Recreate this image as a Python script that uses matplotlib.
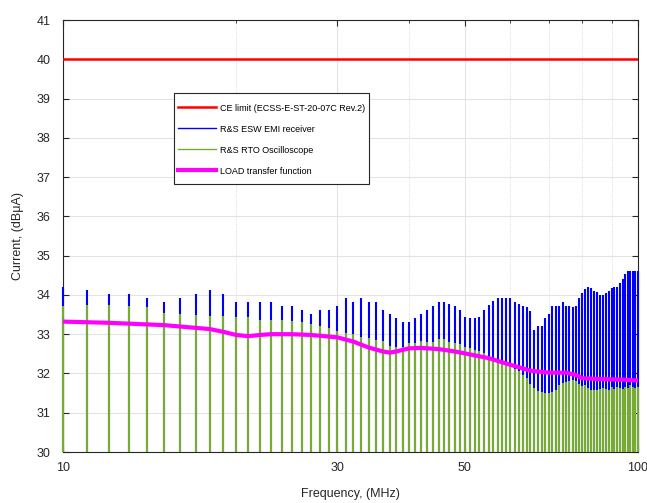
import matplotlib
matplotlib.use("Agg")
import matplotlib.pyplot as plt
from matplotlib.ticker import FixedLocator, NullFormatter, FixedFormatter
from matplotlib.lines import Line2D
from matplotlib.legend_handler import HandlerLine2D

plt.rcParams['font.family'] = ['Liberation Sans', 'DejaVu Sans']

# Harmonic frequencies (MHz)
freqs = list(range(10, 101))

# R&S ESW EMI receiver peaks (dBuA), 10..100 MHz
esw = [34.21, 34.12, 34.03, 34.02, 33.92, 33.81, 33.91, 34.02, 34.12, 34.02,
       33.82, 33.81, 33.81, 33.81, 33.71, 33.71, 33.62, 33.52, 33.62, 33.62,
       33.72, 33.91, 33.81, 33.91, 33.81, 33.81, 33.62, 33.51, 33.41, 33.31,
       33.31, 33.41, 33.51, 33.62, 33.71, 33.81, 33.81, 33.76, 33.71, 33.62,
       33.45, 33.41, 33.41, 33.45, 33.62, 33.75, 33.85, 33.91, 33.91, 33.91,
       33.91, 33.83, 33.78, 33.72, 33.68, 33.60, 33.11, 33.21, 33.21, 33.41,
       33.51, 33.72, 33.72, 33.72, 33.82, 33.72, 33.72, 33.68, 33.72, 33.91,
       34.05, 34.15, 34.21, 34.18, 34.11, 34.08, 34.01, 34.01, 34.05, 34.11,
       34.18, 34.21, 34.21, 34.31, 34.40, 34.52, 34.61, 34.61, 34.61, 34.61,
       34.61]

# R&S RTO Oscilloscope peaks (dBuA), 10..100 MHz
rto = [33.72, 33.74, 33.74, 33.72, 33.68, 33.54, 33.52, 33.49, 33.47, 33.46,
       33.44, 33.44, 33.37, 33.36, 33.36, 33.34, 33.31, 33.27, 33.21, 33.15,
       33.08, 33.04, 33.00, 32.94, 32.91, 32.85, 32.83, 32.70, 32.67, 32.67,
       32.77, 32.77, 32.83, 32.80, 32.80, 32.87, 32.87, 32.81, 32.77, 32.74,
       32.68, 32.64, 32.60, 32.56, 32.52, 32.43, 32.35, 32.26, 32.24, 32.22,
       32.18, 32.12, 32.06, 31.96, 31.88, 31.72, 31.63, 31.56, 31.54, 31.50,
       31.50, 31.52, 31.58, 31.71, 31.75, 31.77, 31.80, 31.84, 31.80, 31.72,
       31.68, 31.71, 31.63, 31.58, 31.58, 31.58, 31.60, 31.63, 31.60, 31.58,
       31.65, 31.60, 31.65, 31.63, 31.60, 31.65, 31.62, 31.70, 31.65, 31.62,
       31.66]

# LOAD transfer function
load_f = [10, 12, 15, 18, 19, 20, 21, 22, 23, 25, 27, 30, 32, 34, 36, 37, 38,
          40, 42, 45, 48, 50, 55, 60, 63, 65, 70, 75, 78, 80, 85, 90, 95, 100]
load_v = [33.32, 33.29, 33.23, 33.13, 33.06, 32.98, 32.95, 32.98, 33.00, 33.00,
          32.98, 32.92, 32.81, 32.66, 32.56, 32.53, 32.56, 32.64, 32.65, 32.62,
          32.56, 32.51, 32.39, 32.22, 32.13, 32.07, 32.02, 32.02, 31.96, 31.88,
          31.86, 31.85, 31.84, 31.82]

ce_limit = 40.0

labels = ['CE limit (ECSS-E-ST-20-07C Rev.2)', 'R&S ESW EMI receiver',
          'R&S RTO Oscilloscope', 'LOAD transfer function']

fig = plt.figure(figsize=(6.47, 5.03), dpi=100)
ax = fig.add_axes([63/647, 51/503, 575/647, 432/503])
ax.set_xscale('log')
ax.set_xlim(10, 100)
ax.set_ylim(30, 41)

blue = '#0000ff'
green = '#77ac30'
ax.vlines(freqs, 30, esw, color=blue, lw=1.5, zorder=3, clip_on=False)
ax.vlines(freqs, 30, rto, color=green, lw=1.5, zorder=3.1, clip_on=False)
ax.plot([10, 100], [ce_limit, ce_limit], color='#ff0000', lw=1.8, zorder=4)
ax.plot(load_f, load_v, color='#ff00ff', lw=3, zorder=5, solid_capstyle='butt')

# ticks
ax.xaxis.set_major_locator(FixedLocator([10, 30, 50, 100]))
ax.xaxis.set_major_formatter(FixedFormatter(['10', '30', '50', '100']))
ax.xaxis.set_minor_locator(FixedLocator([20, 40, 60, 70, 80, 90]))
ax.xaxis.set_minor_formatter(NullFormatter())
ax.set_yticks(range(30, 42))
ax.tick_params(which='both', direction='in', top=True, right=True,
               labelsize=9, labelcolor='#262626', color='#262626')
ax.tick_params(which='major', length=4)
ax.tick_params(which='minor', length=2)
ax.tick_params(axis='x', pad=7)
ax.tick_params(axis='y', pad=9)

ax.grid(True, which='major', color='#e3e3e3', lw=0.8, zorder=0)
ax.grid(True, which='minor', axis='x', color='#d0d0d0', lw=0.6, ls=':', zorder=0)
ax.set_axisbelow(True)
for s in ax.spines.values():
    s.set_color('#262626')
    s.set_linewidth(0.8)

ax.set_xlabel('Frequency, (MHz)', fontsize=9, color='#262626', labelpad=10)
ax.set_ylabel('Current, (dBμA)', fontsize=9, color='#262626', labelpad=9)


class ShiftedLine(HandlerLine2D):
    def __init__(self, shift_pt, **kw):
        super().__init__(**kw)
        self.shift_pt = shift_pt

    def create_artists(self, legend, orig_handle, xdescent, ydescent, width,
                       height, fontsize, trans):
        return super().create_artists(legend, orig_handle, xdescent,
                                      ydescent + 2 * self.shift_pt, width,
                                      height, fontsize, trans)


handles = [Line2D([], [], color='#ff0000', lw=1.8),
           Line2D([], [], color=blue, lw=1.0),
           Line2D([], [], color=green, lw=1.0),
           Line2D([], [], color='#ff00ff', lw=3)]
leg = ax.legend(handles, labels, loc='upper left',
                bbox_to_anchor=((174-63)/575, (452-93)/432),
                fontsize=6.5, frameon=True, fancybox=False, framealpha=1,
                edgecolor='#262626', handlelength=4.2, handletextpad=0.5,
                handleheight=3.2, labelspacing=0.0, borderpad=0.4,
                borderaxespad=0,
                handler_map={Line2D: ShiftedLine(2.9)})
leg.get_frame().set_linewidth(0.8)
leg.set_zorder(10)
for t in leg.get_texts():
    t.set_y(-1.0)

fig.savefig('out.png', dpi=100)
